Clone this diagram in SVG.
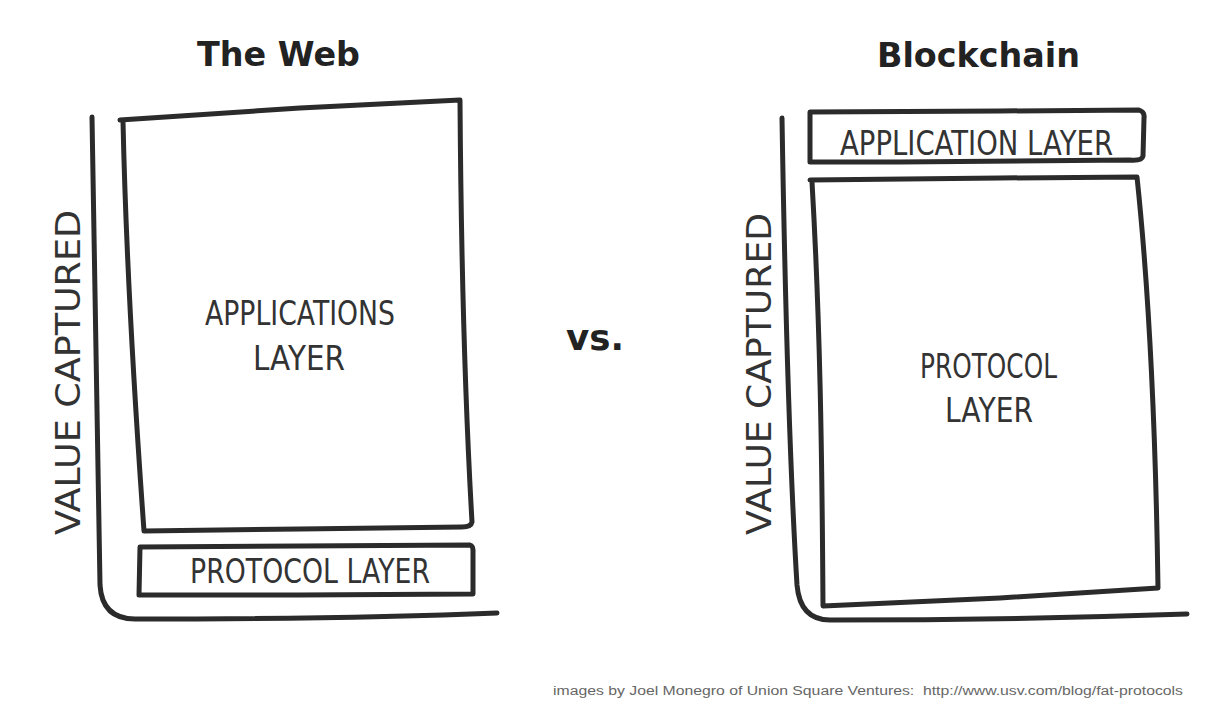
<svg xmlns="http://www.w3.org/2000/svg" width="1205" height="725" viewBox="0 0 1205 725">
<style>
.ink{fill:none;stroke:#2b2b2b;stroke-width:5;stroke-linecap:round;stroke-linejoin:round}
.title{font-family:"DejaVu Sans","Liberation Sans",sans-serif;font-weight:bold;fill:#222}
.hand{font-family:"DejaVu Sans","Liberation Sans",sans-serif;font-size:33px;fill:#333}
.axis-label{font-family:"DejaVu Sans","Liberation Sans",sans-serif;font-size:34px;fill:#333}
.credit{font-family:"Liberation Sans",Arial,sans-serif;font-size:12px;fill:#666}
</style>
<rect width="1205" height="725" fill="#ffffff"/>

<g id="titles">
<text class="title" x="197" y="66" font-size="33" textLength="163" lengthAdjust="spacingAndGlyphs">The Web</text>
<text class="title" x="877" y="67" font-size="33" textLength="203" lengthAdjust="spacingAndGlyphs">Blockchain</text>
<text class="title" x="566" y="350" font-size="35" textLength="58" lengthAdjust="spacingAndGlyphs">vs.</text>
</g>

<g id="axes">
<path class="ink" d="M92,117 C94,300 97,470 100,585 Q102,619 135,619 C250,619 400,617 497,613"/>
<path class="ink" d="M782,118 C785,300 790,470 797,585 Q800,620 830,620 C950,620 1100,617 1187,614"/>
<text class="axis-label" transform="translate(80,535) rotate(-90)" x="0" y="0" textLength="325" lengthAdjust="spacingAndGlyphs">VALUE CAPTURED</text>
<text class="axis-label" transform="translate(771,535) rotate(-90)" x="0" y="0" textLength="322" lengthAdjust="spacingAndGlyphs">VALUE CAPTURED</text>
</g>

<g id="web-applications-layer">
<path class="ink" d="M120,120 L300,108 L460,100 C461,250 465,400 472,522 Q471,527 462,527 L300,529 L144,531 C136,420 126,260 123,121"/>
<text class="hand" x="205" y="325" textLength="190" lengthAdjust="spacingAndGlyphs">APPLICATIONS</text>
<text class="hand" x="253" y="370" textLength="92" lengthAdjust="spacingAndGlyphs">LAYER</text>
</g>

<g id="web-protocol-layer">
<path class="ink" d="M140,547 L300,546 L470,545 Q473,546 473,550 L473,594 L300,595 L139,595 Z"/>
<text class="hand" x="190" y="583" textLength="240" lengthAdjust="spacingAndGlyphs">PROTOCOL LAYER</text>
</g>

<g id="blockchain-application-layer">
<path class="ink" d="M810,112 L1000,111 L1139,110 Q1145,112 1144,118 L1143,156 Q1142,161 1130,160 L900,162 L810,162 Z"/>
<text class="hand" x="840" y="155" textLength="273" lengthAdjust="spacingAndGlyphs">APPLICATION LAYER</text>
</g>

<g id="blockchain-protocol-layer">
<path class="ink" d="M810,180 L1000,178 L1137,177 C1150,300 1156,450 1158,588 L1000,598 L823,606 C822,450 820,320 812,182"/>
<text class="hand" x="920" y="378" textLength="137" lengthAdjust="spacingAndGlyphs">PROTOCOL</text>
<text class="hand" x="945" y="422" textLength="88" lengthAdjust="spacingAndGlyphs">LAYER</text>
</g>

<g id="credit">
<text class="credit" x="553" y="695" textLength="630" lengthAdjust="spacingAndGlyphs">images by Joel Monegro of Union Square Ventures:&#160; http://www.usv.com/blog/fat-protocols</text>
</g>
</svg>
